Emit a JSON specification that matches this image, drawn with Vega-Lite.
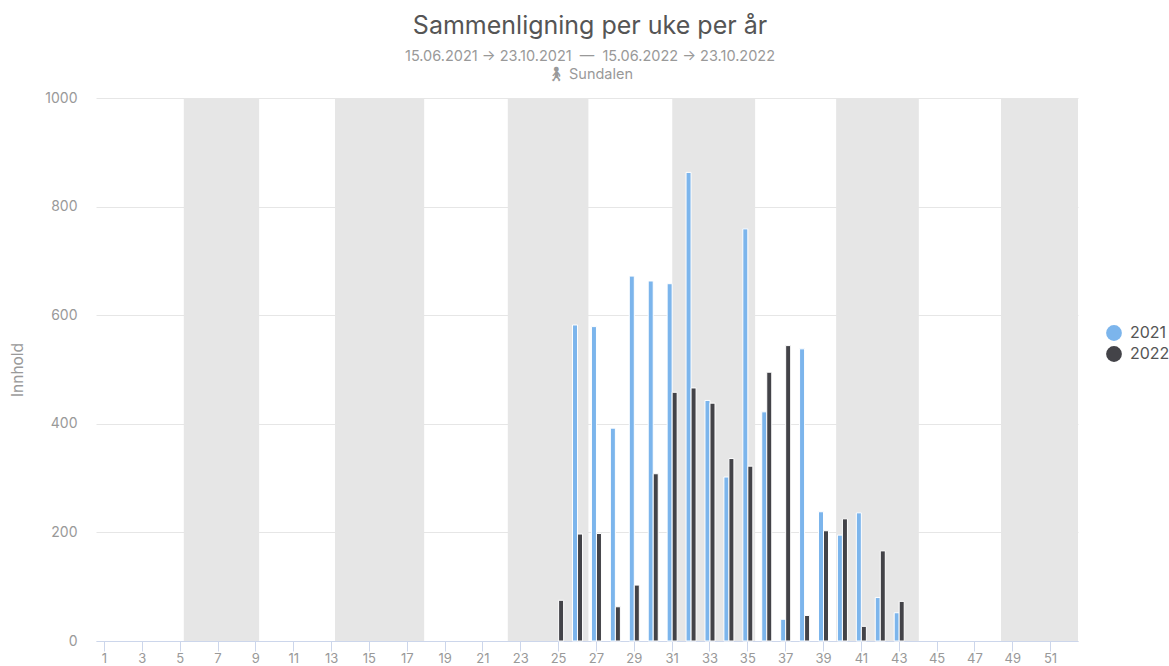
{"$schema":"https://vega.github.io/schema/vega-lite/v6.json","width":982,"height":543,"autosize":"none","padding":{"left":96,"top":98,"right":91,"bottom":25},"background":"white","view":{"stroke":null},"config":{"font":"Inter"},"title":{"text":"Sammenligning per uke per år","subtitle":["15.06.2021 → 23.10.2021\u00A0\u00A0—\u00A0\u00A015.06.2022 → 23.10.2022","🚶︎ Sundalen"],"anchor":"middle","dx":3,"offset":10,"fontSize":25,"fontWeight":"normal","color":"#555555","subtitleFontSize":14.5,"subtitleColor":"#999999","subtitleFontWeight":"normal","subtitleLineHeight":18,"subtitlePadding":11},"datasets":{"bands":[{"start":5.19,"end":9.17},{"start":13.18,"end":17.89},{"start":22.31,"end":26.57},{"start":31.0,"end":35.38},{"start":39.66,"end":44.03},{"start":48.37,"end":52.44}],"bars":[{"week":25,"year":"2022","value":75},{"week":26,"year":"2021","value":582},{"week":26,"year":"2022","value":197},{"week":27,"year":"2021","value":579},{"week":27,"year":"2022","value":198},{"week":28,"year":"2021","value":392},{"week":28,"year":"2022","value":63},{"week":29,"year":"2021","value":672},{"week":29,"year":"2022","value":103},{"week":30,"year":"2021","value":663},{"week":30,"year":"2022","value":308},{"week":31,"year":"2021","value":658},{"week":31,"year":"2022","value":458},{"week":32,"year":"2021","value":863},{"week":32,"year":"2022","value":466},{"week":33,"year":"2021","value":443},{"week":33,"year":"2022","value":438},{"week":34,"year":"2021","value":302},{"week":34,"year":"2022","value":336},{"week":35,"year":"2021","value":759},{"week":35,"year":"2022","value":322},{"week":36,"year":"2021","value":422},{"week":36,"year":"2022","value":495},{"week":37,"year":"2021","value":40},{"week":37,"year":"2022","value":544},{"week":38,"year":"2021","value":538},{"week":38,"year":"2022","value":47},{"week":39,"year":"2021","value":238},{"week":39,"year":"2022","value":203},{"week":40,"year":"2021","value":195},{"week":40,"year":"2022","value":225},{"week":41,"year":"2021","value":236},{"week":41,"year":"2022","value":27},{"week":42,"year":"2021","value":80},{"week":42,"year":"2022","value":166},{"week":43,"year":"2021","value":52},{"week":43,"year":"2022","value":73}]},"layer":[{"data":{"name":"bands"},"mark":{"type":"rect","color":"#e6e6e6"},"encoding":{"x":{"field":"start","type":"quantitative","scale":{"domain":[0.55,52.44],"nice":false,"zero":false},"axis":null},"x2":{"field":"end"}}},{"data":{"name":"bars"},"mark":{"type":"bar","stroke":"white","strokeWidth":1},"encoding":{"x":{"field":"week","type":"ordinal","scale":{"domain":[1,2,3,4,5,6,7,8,9,10,11,12,13,14,15,16,17,18,19,20,21,22,23,24,25,26,27,28,29,30,31,32,33,34,35,36,37,38,39,40,41,42,43,44,45,46,47,48,49,50,51,52],"paddingInner":0.47,"paddingOuter":0.185},"axis":{"title":null,"values":[1,3,5,7,9,11,13,15,17,19,21,23,25,27,29,31,33,35,37,39,41,43,45,47,49,51],"labelAngle":0,"labelFontSize":13,"labelColor":"#999999","labelPadding":1,"tickColor":"#ccd6eb","tickSize":10,"domainColor":"#ccd6eb","grid":false}},"xOffset":{"field":"year","type":"nominal","scale":{"domain":["2021","2022"]}},"y":{"field":"value","type":"quantitative","scale":{"domain":[0,1000],"nice":false},"axis":{"title":"Innhold","titleFontSize":15.5,"titleFontWeight":"normal","titleColor":"#999999","titleX":-71,"titleY":271.5,"values":[0,200,400,600,800,1000],"format":"d","labelFontSize":14,"labelColor":"#999999","labelPadding":19,"ticks":false,"domain":false,"gridColor":"#e6e6e6","grid":true}},"color":{"field":"year","type":"nominal","scale":{"domain":["2021","2022"],"range":["#7cb5ec","#434348"]},"legend":{"title":null,"orient":"none","legendX":1010,"legendY":227,"symbolType":"circle","symbolSize":250,"symbolStrokeWidth":0,"labelFontSize":16,"labelColor":"#555555","labelOffset":8,"rowPadding":5,"symbolOpacity":1}}}}],"resolve":{"scale":{"x":"independent"}}}
